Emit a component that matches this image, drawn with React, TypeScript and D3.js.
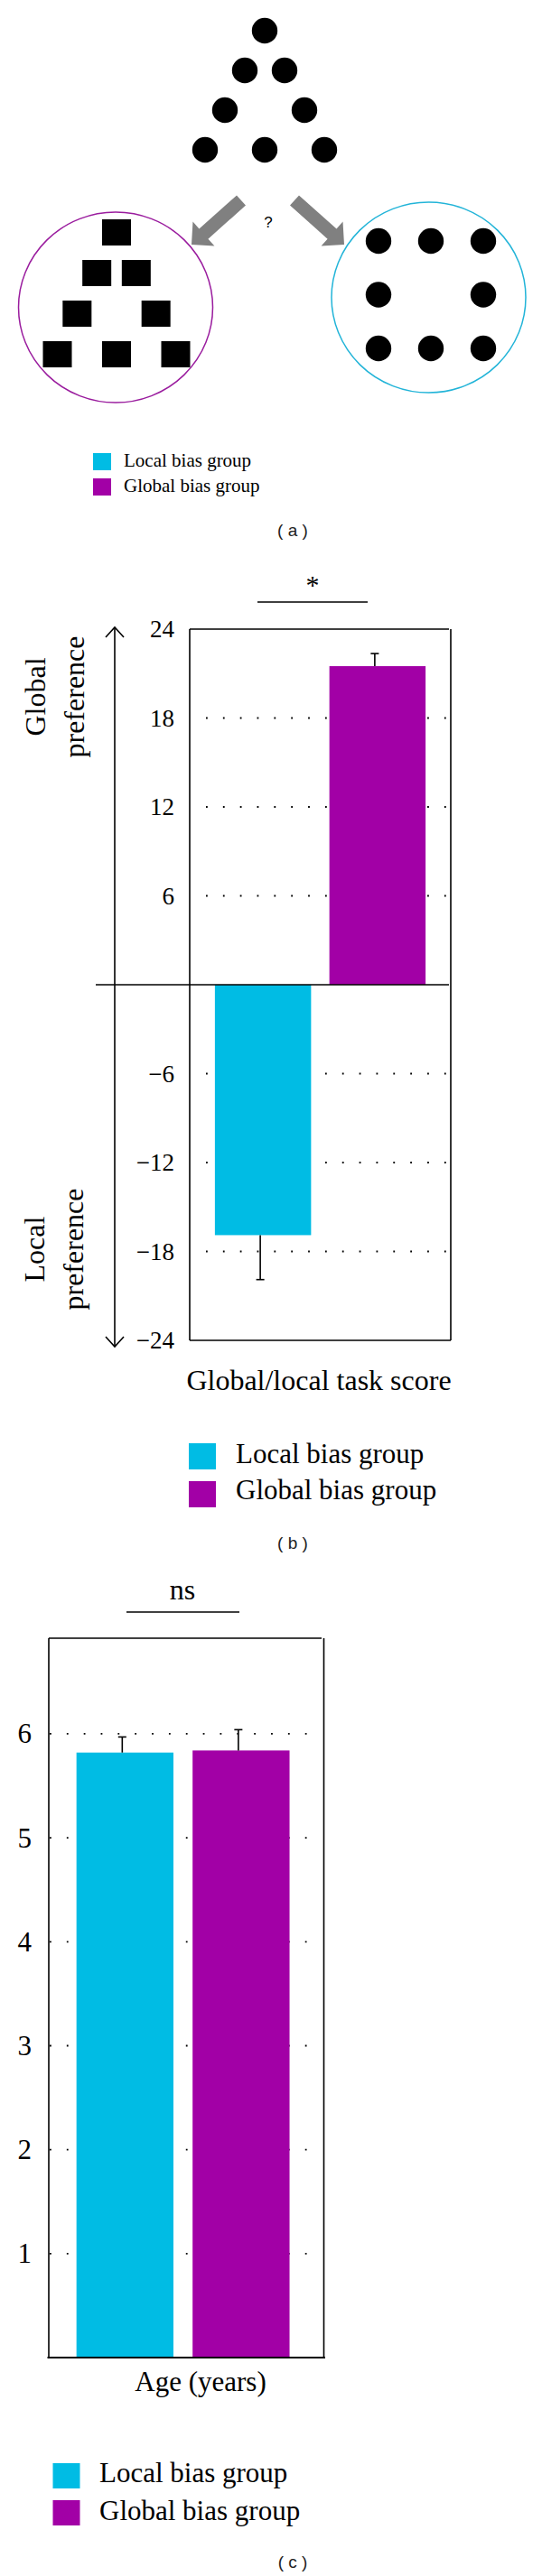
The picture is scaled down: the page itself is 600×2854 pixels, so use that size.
import React, { useEffect, useRef } from "react";
import * as d3 from "d3";

const groups = ["Local bias group", "Global bias group"];
const groupColors = ["#00bce4", "#a200a6"];

// (b) global/local task score, mean and one-sided error
const taskScores = [-16.9, 21.5];
const taskErrors = [3.0, 0.85];
const taskTicks = [24, 18, 12, 6, -6, -12, -18, -24];
const taskGrid = [18, 12, 6, -6, -12, -18];

// (c) age in years
const ages = [5.82, 5.84];
const ageErrors = [0.15, 0.2];
const ageTicks = [1, 2, 3, 4, 5, 6];

// (a) stimulus layouts as [row, col] cells
const triangleCells = [[0, 0], [1, -1], [1, 1], [2, -2], [2, 2], [3, -3], [3, 0], [3, 3]];
const squareCells = [[0, -1], [0, 0], [0, 1], [1, -1], [1, 1], [2, -1], [2, 0], [2, 1]];

const serif = "'Liberation Serif', 'Times New Roman', serif";
const sans = "'Liberation Sans', Arial, sans-serif";

const arrowPoints = (x1, y1, x2, y2, shaft = 15, headW = 36, headL = 18) => {
  const dx = x2 - x1, dy = y2 - y1, len = Math.hypot(dx, dy);
  const ux = dx / len, uy = dy / len, px = -uy, py = ux;
  const bx = x2 - ux * headL, by = y2 - uy * headL;
  return [
    [x1 + (px * shaft) / 2, y1 + (py * shaft) / 2],
    [bx + (px * shaft) / 2, by + (py * shaft) / 2],
    [bx + (px * headW) / 2, by + (py * headW) / 2],
    [x2, y2],
    [bx - (px * headW) / 2, by - (py * headW) / 2],
    [bx - (px * shaft) / 2, by - (py * shaft) / 2],
    [x1 - (px * shaft) / 2, y1 - (py * shaft) / 2],
  ];
};

const App = () => {
  const svgRef = useRef(null);

  useEffect(() => {
    const svg = d3.select(svgRef.current);
    svg.selectAll("*").remove();

    const legend = (sqX, sqW, sqH, sqTops, textX, baselines, size) => {
      const g = svg.append("g");
      groups.forEach((name, i) => {
        g.append("rect")
          .attr("x", sqX).attr("y", sqTops[i])
          .attr("width", sqW).attr("height", sqH)
          .attr("fill", groupColors[i]);
        g.append("text")
          .attr("x", textX).attr("y", baselines[i])
          .attr("font-family", serif).attr("font-size", size)
          .text(name);
      });
    };

    const caption = (label, y) => {
      svg.append("text")
        .attr("x", 324).attr("y", y)
        .attr("text-anchor", "middle")
        .attr("font-family", sans).attr("font-size", 19)
        .attr("fill", "#222")
        .text(`( ${label} )`);
    };

    // ---------- (a) ----------
    const a = svg.append("g");
    const tx = d3.scaleLinear().domain([-3, 3]).range([227, 359]);
    const ty = d3.scaleLinear().domain([0, 3]).range([34, 166]);
    a.selectAll(".tri").data(triangleCells).join("circle")
      .attr("cx", (d) => tx(d[1])).attr("cy", (d) => ty(d[0]))
      .attr("r", 14.2).attr("fill", "#000");

    a.append("polygon")
      .attr("points", arrowPoints(267, 222, 212, 271).join(" "))
      .attr("fill", "#808080");
    a.append("polygon")
      .attr("points", arrowPoints(326, 222, 381, 271).join(" "))
      .attr("fill", "#808080");
    a.append("text")
      .attr("x", 297).attr("y", 252)
      .attr("text-anchor", "middle")
      .attr("font-family", sans).attr("font-size", 17)
      .text("?");

    // global answer: squares forming a triangle
    a.append("ellipse")
      .attr("cx", 128).attr("cy", 340.5).attr("rx", 107.5).attr("ry", 105.5)
      .attr("fill", "none").attr("stroke", "#9a1c9e").attr("stroke-width", 1.5);
    const sx = d3.scaleLinear().domain([-3, 3]).range([63.5, 194.5]);
    const sy = d3.scaleLinear().domain([0, 3]).range([257.5, 392.5]);
    a.selectAll(".sq").data(triangleCells).join("rect")
      .attr("x", (d) => sx(d[1]) - 16).attr("y", (d) => sy(d[0]) - 14.5)
      .attr("width", 32).attr("height", 29).attr("fill", "#000");

    // local answer: circles forming a square
    a.append("ellipse")
      .attr("cx", 474.5).attr("cy", 329.5).attr("rx", 107.5).attr("ry", 105.5)
      .attr("fill", "none").attr("stroke", "#22b4d8").attr("stroke-width", 1.5);
    const cx = d3.scaleLinear().domain([-1, 1]).range([419, 535]);
    const cy = d3.scaleLinear().domain([0, 2]).range([267, 386]);
    a.selectAll(".dot").data(squareCells).join("circle")
      .attr("cx", (d) => cx(d[1])).attr("cy", (d) => cy(d[0]))
      .attr("r", 14.2).attr("fill", "#000");

    legend(103, 20, 19, [502, 530], 137, [517, 545], 21);
    caption("a", 594);

    // ---------- (b) ----------
    const b = svg.append("g");
    const yB = d3.scaleLinear().domain([-24, 24]).range([1485, 697]);
    const xB = d3.scaleBand().domain(groups).range([210, 499]).paddingInner(0.16).paddingOuter(0.22);

    taskGrid.forEach((t) => {
      b.append("line")
        .attr("x1", 228).attr("x2", 497).attr("y1", yB(t)).attr("y2", yB(t))
        .attr("stroke", "#000").attr("stroke-width", 1.8)
        .attr("stroke-dasharray", "1.8 17.05");
    });

    groups.forEach((gname, i) => {
      const v = taskScores[i];
      b.append("rect")
        .attr("x", xB(gname)).attr("width", xB.bandwidth())
        .attr("y", Math.min(yB(v), yB(0))).attr("height", Math.abs(yB(v) - yB(0)))
        .attr("fill", groupColors[i]);
      const ex = xB(gname) + xB.bandwidth() / 2 - 3;
      const ee = v + Math.sign(v) * taskErrors[i];
      b.append("line").attr("x1", ex).attr("x2", ex).attr("y1", yB(v)).attr("y2", yB(ee))
        .attr("stroke", "#000").attr("stroke-width", 1.6);
      b.append("line").attr("x1", ex - 4.5).attr("x2", ex + 4.5).attr("y1", yB(ee)).attr("y2", yB(ee))
        .attr("stroke", "#000").attr("stroke-width", 1.6);
    });

    const frameB = [
      [210, yB(24), 497, yB(24)],
      [210, yB(24), 210, yB(-24)],
      [499, yB(24), 499, yB(-24)],
      [210, yB(-24), 499, yB(-24)],
      [106, yB(0), 497, yB(0)],
      [127, yB(24) - 2, 127, yB(-24) + 7],
    ];
    frameB.forEach(([x1, y1, x2, y2]) => {
      b.append("line").attr("x1", x1).attr("y1", y1).attr("x2", x2).attr("y2", y2)
        .attr("stroke", "#000").attr("stroke-width", 1.6);
    });
    b.append("polyline")
      .attr("points", `117,${yB(24) + 9} 127,${yB(24) - 2} 137,${yB(24) + 9}`)
      .attr("fill", "none").attr("stroke", "#000").attr("stroke-width", 1.6);
    b.append("polyline")
      .attr("points", `117,${yB(-24) - 4} 127,${yB(-24) + 7} 137,${yB(-24) - 4}`)
      .attr("fill", "none").attr("stroke", "#000").attr("stroke-width", 1.6);

    taskTicks.forEach((t) => {
      b.append("text")
        .attr("x", 193).attr("y", yB(t)).attr("dy", "0.34em")
        .attr("text-anchor", "end")
        .attr("font-family", serif).attr("font-size", 27)
        .text(t < 0 ? `\u2212${Math.abs(t)}` : `${t}`);
    });

    const yLabel = (lines, cyv) => {
      lines.forEach(([txt, bx]) => {
        b.append("text")
          .attr("transform", `translate(${bx},${cyv}) rotate(-90)`)
          .attr("text-anchor", "middle")
          .attr("font-family", serif).attr("font-size", 32)
          .text(txt);
      });
    };
    yLabel([["Global", 50], ["preference", 93]], 772);
    yLabel([["Local", 49], ["preference", 92]], 1384);

    b.append("text")
      .attr("x", 353).attr("y", 1540).attr("text-anchor", "middle")
      .attr("font-family", serif).attr("font-size", 32)
      .text("Global/local task score");

    b.append("line").attr("x1", 285).attr("x2", 407).attr("y1", 667).attr("y2", 667)
      .attr("stroke", "#000").attr("stroke-width", 1.6);
    b.append("text")
      .attr("x", 346).attr("y", 658).attr("text-anchor", "middle")
      .attr("font-family", serif).attr("font-size", 30)
      .text("*");

    legend(209, 30, 29, [1599, 1641], 261, [1621, 1661], 31);
    caption("b", 1716);

    // ---------- (c) ----------
    const c = svg.append("g");
    const yC = d3.scaleLinear().domain([0, 6.92]).range([2612, 1815]);
    const xC = d3.scaleBand().domain(groups).range([54, 358])
      .paddingInner(0.165).paddingOuter(0.265).align(0.45);

    ageTicks.forEach((t) => {
      c.append("line")
        .attr("x1", 55).attr("x2", 340).attr("y1", yC(t)).attr("y2", yC(t))
        .attr("stroke", "#000").attr("stroke-width", 1.8)
        .attr("stroke-dasharray", "1.8 17.05");
    });

    groups.forEach((gname, i) => {
      const v = ages[i];
      c.append("rect")
        .attr("x", xC(gname)).attr("width", xC.bandwidth())
        .attr("y", yC(v)).attr("height", yC(0) - yC(v))
        .attr("fill", groupColors[i]);
      const ex = xC(gname) + xC.bandwidth() / 2 - 3;
      const ee = v + ageErrors[i];
      c.append("line").attr("x1", ex).attr("x2", ex).attr("y1", yC(v)).attr("y2", yC(ee))
        .attr("stroke", "#000").attr("stroke-width", 1.6);
      c.append("line").attr("x1", ex - 4.5).attr("x2", ex + 4.5).attr("y1", yC(ee)).attr("y2", yC(ee))
        .attr("stroke", "#000").attr("stroke-width", 1.6);
    });

    const frameC = [
      [54, yC(6.92), 356, yC(6.92), 1.6],
      [54, yC(6.92), 54, yC(0), 1.6],
      [358.5, yC(6.92), 358.5, yC(0), 1.6],
      [52.5, yC(0), 360, yC(0), 2.2],
    ];
    frameC.forEach(([x1, y1, x2, y2, w]) => {
      c.append("line").attr("x1", x1).attr("y1", y1).attr("x2", x2).attr("y2", y2)
        .attr("stroke", "#000").attr("stroke-width", w);
    });

    ageTicks.forEach((t) => {
      c.append("text")
        .attr("x", 35).attr("y", yC(t)).attr("dy", "0.34em")
        .attr("text-anchor", "end")
        .attr("font-family", serif).attr("font-size", 31)
        .text(`${t}`);
    });

    c.append("text")
      .attr("x", 222).attr("y", 2649).attr("text-anchor", "middle")
      .attr("font-family", serif).attr("font-size", 31)
      .text("Age (years)");

    c.append("line").attr("x1", 140).attr("x2", 265).attr("y1", 1786).attr("y2", 1786)
      .attr("stroke", "#000").attr("stroke-width", 1.6);
    c.append("text")
      .attr("x", 202).attr("y", 1772).attr("text-anchor", "middle")
      .attr("font-family", serif).attr("font-size", 32)
      .text("ns");

    legend(58.5, 30, 28, [2729, 2770], 110, [2750, 2792], 31);
    caption("c", 2845);
  }, []);

  return (
    <div style={{ position: "absolute", top: 0, left: 0 }}>
      <svg ref={svgRef} width={600} height={2854} style={{ display: "block", background: "#fff" }} />
    </div>
  );
};

export default App;
